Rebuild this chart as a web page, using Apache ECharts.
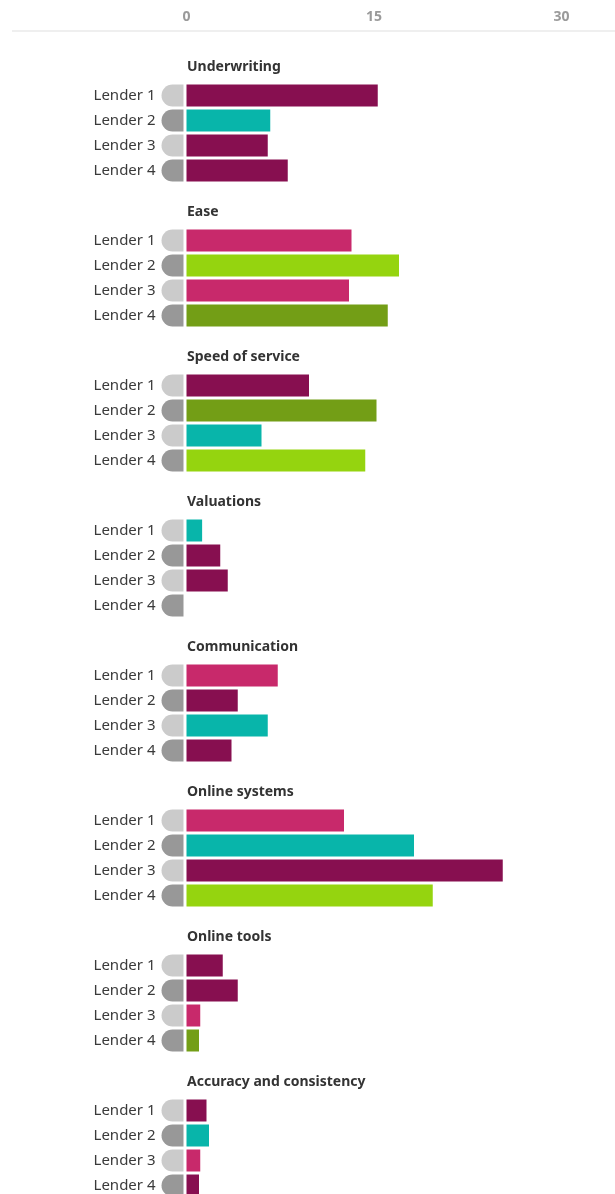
<!DOCTYPE html>
<html>
<head>
<meta charset="utf-8">
<script src="https://cdn.jsdelivr.net/npm/echarts@6/dist/echarts.min.js"></script>
<style>
html,body{margin:0;padding:0;background:#fff;}
#c{width:615px;height:1194px;}
</style>
</head>
<body>
<div id="c"></div>
<script>
// ---- data ----
const categories = ['Underwriting','Ease','Speed of service','Valuations','Communication','Online systems','Online tools','Accuracy and consistency'];
const lenders = ['Lender 1','Lender 2','Lender 3','Lender 4'];
const tickLabels = [0, 15, 30];

const underwriting = [15.3, 6.7, 6.5, 8.1];
const ease = [13.2, 17.0, 13.0, 16.1];
const speedOfService = [9.8, 15.2, 6.0, 14.3];
const valuations = [1.25, 2.7, 3.3, 0];
const communication = [7.3, 4.1, 6.5, 3.6];
const onlineSystems = [12.6, 18.2, 25.3, 19.7];
const onlineTools = [2.9, 4.1, 1.1, 1.0];
const accuracy = [1.6, 1.8, 1.1, 1.0];

// colour group of each bar (m = plum, t = teal, p = pink, l = lime, o = olive)
const underwritingColors = ['m','t','m','m'];
const easeColors = ['p','l','p','o'];
const speedColors = ['m','o','t','l'];
const valuationsColors = ['t','m','m','m'];
const communicationColors = ['p','m','t','m'];
const onlineSystemsColors = ['p','t','m','l'];
const onlineToolsColors = ['m','m','p','o'];
const accuracyColors = ['m','t','p','m'];

const values = [underwriting, ease, speedOfService, valuations, communication, onlineSystems, onlineTools, accuracy];
const colorKeys = [underwritingColors, easeColors, speedColors, valuationsColors, communicationColors, onlineSystemsColors, onlineToolsColors, accuracyColors];

// ---- styling ----
const palette = { m: '#870f50', t: '#08b5aa', p: '#c8296b', l: '#95d40f', o: '#739e16' };
const FONT = '"Noto Sans", sans-serif';
const LEFT = 186.5, WIDTH = 375, MAX = 30;
const GROUP_STEP = 145, FIRST_BAR_CENTER = 95.5, GRID_H = 75;

const grids = [], xAxes = [], yAxes = [], series = [], titles = [];
categories.forEach((cat, i) => {
  const top = FIRST_BAR_CENTER + GROUP_STEP * i;
  grids.push({ left: LEFT, width: WIDTH, top: top, height: GRID_H, outerBoundsMode: 'none', containLabel: false });
  xAxes.push({
    type: 'value', gridIndex: i, min: 0, max: MAX, interval: 15,
    show: false
  });
  yAxes.push({
    type: 'category', gridIndex: i, data: lenders, inverse: true, boundaryGap: false,
    axisLine: { show: false }, axisTick: { show: false }, splitLine: { show: false },
    axisLabel: {
      margin: 3,
      formatter: (v, idx) => '{n|' + v + '}{' + (idx % 2 === 0 ? 'a' : 'b') + '| }',
      rich: {
        n: { fontFamily: FONT, fontSize: 15, color: '#3a3a3a', padding: [0, 6, 0, 0] },
        a: { width: 22, height: 22, backgroundColor: '#cbcbcb', borderRadius: [11, 0, 0, 11] },
        b: { width: 22, height: 22, backgroundColor: '#989898', borderRadius: [11, 0, 0, 11] }
      }
    }
  });
  series.push({
    type: 'bar', xAxisIndex: i, yAxisIndex: i, barWidth: 22, clip: false,
    data: values[i].map((v, k) => ({ value: v, itemStyle: { color: palette[colorKeys[i][k]] } })),
    silent: true
  });
  titles.push({
    text: cat, left: 182, top: 55 + GROUP_STEP * i,
    textStyle: { fontFamily: FONT, fontSize: 14, fontWeight: 'bold', color: '#333' }
  });
});

// header axis with tick labels
grids.push({ left: LEFT, width: WIDTH, top: 31, height: 1, outerBoundsMode: 'none', containLabel: false });
xAxes.push({
  type: 'value', gridIndex: categories.length, position: 'top', min: 0, max: MAX, interval: 15,
  axisLine: { show: false }, axisTick: { show: false }, splitLine: { show: false },
  axisLabel: {
    margin: 7, fontFamily: FONT, fontSize: 14, fontWeight: 'bold', color: '#9a9a9a',
    formatter: v => tickLabels.includes(v) ? String(v) : ''
  }
});
yAxes.push({ type: 'category', gridIndex: categories.length, data: [''], show: false });

const chart = echarts.init(document.getElementById('c'), null, { renderer: 'canvas' });
chart.setOption({
  animation: false,
  backgroundColor: '#fff',
  title: titles,
  grid: grids,
  xAxis: xAxes,
  yAxis: yAxes,
  series: series,
  graphic: [{
    type: 'line', shape: { x1: 12, y1: 31, x2: 615, y2: 31 },
    style: { stroke: '#efefef', lineWidth: 2 }
  }]
});
</script>
</body>
</html>
